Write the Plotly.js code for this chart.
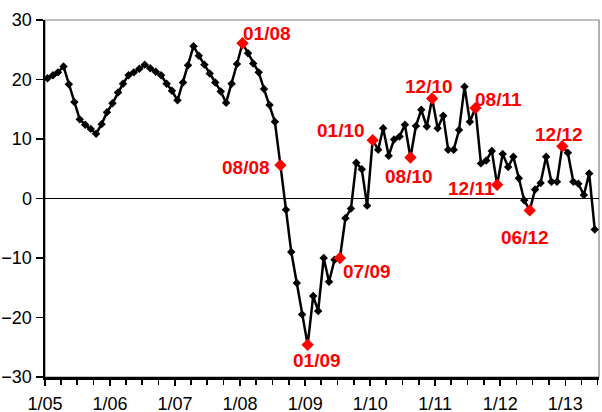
<!DOCTYPE html>
<html>
<head>
<meta charset="utf-8">
<script src="https://cdn.plot.ly/plotly-3.0.1.min.js"></script>
<style>
  html, body { margin: 0; padding: 0; background: #fff; }
  #chart { width: 602px; height: 412px; }
</style>
</head>
<body>
<div id="chart"></div>
<script>
// Monthly series, January 2005 to June 2013
const startYear = 2005;
const values = [
  20.2, 20.7, 21.2, 22.2, 19.2, 16.2, 13.3, 12.4, 11.7, 10.9, 12.5, 14.5,
  16.0, 17.8, 19.3, 20.7, 21.2, 21.8, 22.5, 21.9, 21.3, 20.7, 19.3, 18.1,
  16.5, 19.5, 22.4, 25.6, 24.0, 22.5, 21.0, 19.5, 18.0, 16.1, 19.3, 22.6,
  26.1, 24.4, 22.7, 21.2, 18.4, 15.7, 12.9, 5.6, -1.9, -9.0, -14.2, -19.5,
  -24.6, -16.4, -18.9, -10.0, -14.0, -10.3, -10.0, -3.3, -1.7, 6.0, 4.9, -1.2,
  9.8, 8.2, 11.8, 7.2, 9.9, 10.4, 12.4, 6.9, 12.2, 14.9, 12.1, 16.8,
  11.8, 13.9, 8.2, 8.2, 11.5, 18.8, 12.9, 15.2, 5.9, 6.4, 8.0, 2.3,
  7.5, 5.3, 7.0, 3.4, -0.3, -2.0, 1.5, 2.6, 7.0, 2.8, 2.8, 8.8,
  7.7, 2.8, 2.5, 0.6, 4.2, -5.2
];

// Highlighted months (red markers) and their labels
const highlightLabels = ['01/08', '08/08', '01/09', '07/09', '01/10', '08/10', '12/10', '08/11', '12/11', '06/12', '12/12'];

// X axis tick labels
const tickLabels = ['1/05', '1/06', '1/07', '1/08', '1/09', '1/10', '1/11', '1/12', '1/13'];
const yTicks = [-30, -20, -10, 0, 10, 20, 30];

// ---- build dates (monthly categories, plotted mid-month) ----
function pad(n) { return (n < 10 ? '0' : '') + n; }
const dates = values.map((v, i) => {
  const y = startYear + Math.floor(i / 12);
  const m = (i % 12) + 1;
  return y + '-' + pad(m) + '-15';
});
function labelToDate(lbl) {
  const [mm, yy] = lbl.split('/');
  return '20' + yy + '-' + mm + '-15';
}
const hlDates = highlightLabels.map(labelToDate);
const hlValues = hlDates.map(d => values[dates.indexOf(d)]);
const tickVals = tickLabels.map(t => { const [m, y] = t.split('/'); return '20' + y + '-' + pad(+m) + '-01'; });

// label offsets (style: pixel shifts from each red marker)
const labelShift = [
  [25, 10], [-34, -2], [9, -16], [27, -13], [-32, 10], [-1, -19],
  [-3, 12], [23, 9], [-26, -4], [-5, -27], [-3, 12]
];

const FONT = 'Arial, "Liberation Sans", sans-serif';

const traces = [
  {
    x: dates, y: values, type: 'scatter', mode: 'lines+markers',
    line: { color: '#000', width: 2.5 },
    marker: { symbol: 'diamond', size: 6.5, color: '#000' },
    hoverinfo: 'skip', cliponaxis: false
  },
  {
    x: hlDates, y: hlValues, type: 'scatter', mode: 'markers',
    marker: { symbol: 'diamond', size: 9.5, color: '#ff0000' },
    hoverinfo: 'skip', cliponaxis: false
  }
];

const annotations = highlightLabels.map((t, i) => ({
  x: hlDates[i], y: hlValues[i], xref: 'x', yref: 'y',
  text: t, showarrow: false,
  xshift: labelShift[i][0], yshift: labelShift[i][1],
  font: { family: FONT, size: 19, color: '#ff0000', weight: 'bold' }
}));

const layout = {
  width: 602, height: 412,
  margin: { l: 45, r: 3, t: 20, b: 35 },
  paper_bgcolor: '#fff', plot_bgcolor: '#fff',
  showlegend: false,
  font: { family: FONT, size: 18, color: '#000' },
  xaxis: {
    type: 'date',
    range: ['2005-01-01', '2013-07-09'],
    tickmode: 'array', tickvals: tickVals, ticktext: tickLabels,
    ticks: 'outside', ticklen: 6, tickwidth: 1.5, tickcolor: '#000',
    minor: { dtick: 'M3', tick0: '2005-01-01', ticks: 'outside', ticklen: 5, tickwidth: 1.5, tickcolor: '#000', showgrid: false },
    showline: true, linecolor: '#000', linewidth: 2.5,
    showgrid: false, zeroline: false,
    ticklabelstandoff: 3,
    tickfont: { family: FONT, size: 18, color: '#000' }
  },
  yaxis: {
    range: [-30, 30],
    tickmode: 'array', tickvals: yTicks,
    ticks: 'outside', ticklen: 7, tickwidth: 1.5, tickcolor: '#000',
    showline: true, linecolor: '#000', linewidth: 2.5,
    showgrid: false,
    zeroline: true, zerolinecolor: '#000', zerolinewidth: 1,
    tickfont: { family: FONT, size: 18, color: '#000' }
  },
  shapes: [
    { type: 'rect', xref: 'paper', yref: 'paper', x0: 0, x1: 1, y0: 0, y1: 1,
      line: { color: '#808080', width: 1.2 }, layer: 'below' }
  ],
  annotations: annotations
};

Plotly.newPlot('chart', traces, layout, { displayModeBar: false, staticPlot: true });
</script>
</body>
</html>
